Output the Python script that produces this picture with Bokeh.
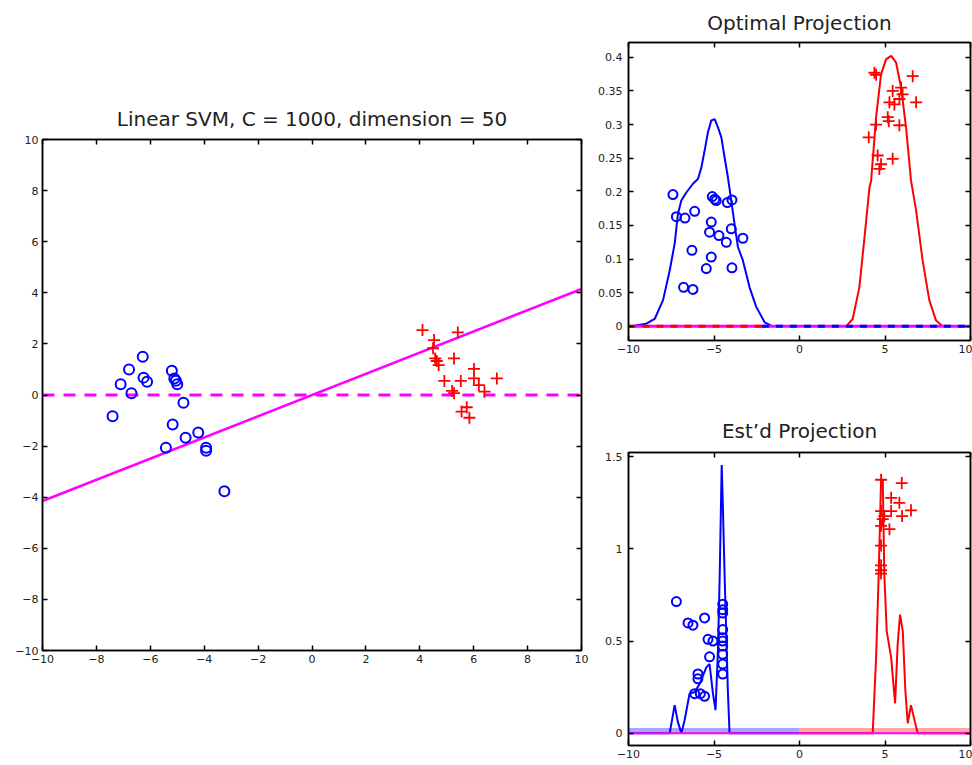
from bokeh.plotting import figure
from bokeh.layouts import row, column
from bokeh.models import FixedTicker, LinearAxis, Range1d
from bokeh.embed import file_html
from bokeh.resources import INLINE

FONT = "DejaVu Sans"

# ---------------- main panel data ----------------
blue_x = [-7.40, -7.10, -6.79, -6.70, -6.28, -6.25, -6.12, -5.20, -5.11, -5.05,
          -5.00, -4.77, -5.17, -5.42, -4.69, -4.22, -3.93, -3.93, -3.25]
blue_y = [-0.83, 0.42, 1.00, 0.07, 1.50, 0.68, 0.52, 0.95, 0.65, 0.56,
          0.42, -0.30, -1.15, -2.06, -1.67, -1.47, -2.06, -2.18, -3.77]
red_x = [4.10, 4.53, 4.49, 4.57, 4.63, 4.70, 5.27, 5.41, 4.91, 5.52,
         5.20, 5.27, 6.01, 6.01, 6.19, 6.40, 6.86, 5.74, 5.55, 5.84]
red_y = [2.54, 2.15, 1.83, 1.43, 1.33, 1.17, 1.43, 2.45, 0.55, 0.55,
         0.16, 0.07, 1.02, 0.65, 0.39, 0.13, 0.65, -0.48, -0.65, -0.89]
svm_x = [-10, 10]
svm_y = [-4.15, 4.15]
zero_x = [-10, 10]
zero_y = [0, 0]
main_ticks = [-10, -8, -6, -4, -2, 0, 2, 4, 6, 8, 10]

# ---------------- optimal projection data ----------------
opt_blue_cx = [-9.93, -8.96, -8.47, -7.98, -7.59, -7.30, -7.11, -6.91, -6.62, -6.23,
               -5.94, -5.74, -5.55, -5.36, -5.16, -4.96, -4.77, -4.57, -4.38, -4.19,
               -3.99, -3.80, -3.60, -3.31, -2.92, -2.53, -2.04, -1.56]
opt_blue_cy = [0.0, 0.004, 0.011, 0.039, 0.083, 0.123, 0.167, 0.187, 0.199, 0.212,
               0.219, 0.236, 0.261, 0.288, 0.306, 0.308, 0.296, 0.281, 0.251, 0.222,
               0.187, 0.152, 0.118, 0.098, 0.058, 0.029, 0.006, 0.0]
opt_red_cx = [2.73, 3.11, 3.50, 3.80, 4.09, 4.19, 4.48, 4.77, 5.06, 5.36,
              5.65, 5.94, 6.23, 6.52, 6.82, 7.20, 7.59, 7.98, 8.37]
opt_red_cy = [0.0, 0.011, 0.058, 0.132, 0.206, 0.217, 0.311, 0.375, 0.397, 0.402,
              0.392, 0.355, 0.296, 0.217, 0.172, 0.098, 0.039, 0.009, 0.0]
opt_blue_px = [-7.40, -7.20, -6.70, -6.13, -6.29, -6.78, -6.23, -5.10, -4.96, -4.87,
               -4.22, -3.95, -5.16, -5.26, -4.71, -4.28, -3.99, -3.31, -5.16, -5.45, -3.95]
opt_blue_py = [0.196, 0.163, 0.161, 0.171, 0.113, 0.058, 0.055, 0.193, 0.189, 0.187,
               0.184, 0.188, 0.155, 0.140, 0.135, 0.125, 0.145, 0.131, 0.103, 0.086, 0.087]
opt_red_px = [4.38, 4.48, 6.62, 5.45, 5.94, 6.03, 5.26, 5.55, 5.84, 6.82,
              5.16, 4.48, 5.22, 5.84, 4.05, 4.57, 4.77, 4.67, 5.45]
opt_red_py = [0.377, 0.374, 0.372, 0.350, 0.355, 0.345, 0.333, 0.330, 0.338, 0.333,
              0.311, 0.300, 0.305, 0.299, 0.281, 0.254, 0.241, 0.234, 0.249]
opt_yticks = [0, 0.05, 0.1, 0.15, 0.2, 0.25, 0.3, 0.35, 0.4]
opt_ylabels = ["0", "0.05", "0.1", "0.15", "0.2", "0.25", "0.3", "0.35", "0.4"]

# ---------------- estimated projection data ----------------
est_blue_cx = [-9.9, -7.59, -7.30, -7.11, -6.91, -6.72, -6.43, -6.13, -5.84, -5.45,
               -5.26, -5.06, -4.91, -4.77, -4.67, -4.60, -4.55, -4.50, -4.38, -4.19, -4.09, 0.0]
est_blue_cy = [0.0, 0.0, 0.152, 0.06, 0.0, 0.07, 0.214, 0.223, 0.268, 0.357,
               0.375, 0.214, 0.125, 0.446, 0.839, 1.20, 1.455, 1.30, 0.857, 0.232, 0.0, 0.0]
est_red_cx = [0.0, 4.28, 4.48, 4.63, 4.77, 4.87, 4.96, 5.10, 5.36, 5.59,
              5.74, 5.88, 6.04, 6.19, 6.33, 6.52, 6.72, 6.91, 10.0]
est_red_cy = [0.0, 0.0, 0.41, 0.857, 1.375, 1.375, 0.857, 0.554, 0.41, 0.161,
              0.482, 0.643, 0.554, 0.232, 0.054, 0.152, 0.072, 0.0, 0.0]
est_blue_px = [-7.20, -6.52, -6.23, -5.55, -5.35, -5.06, -5.26, -5.94, -5.94, -6.13,
               -5.80, -5.55, -4.49, -4.49, -4.49, -4.49, -4.49, -4.49, -4.49, -4.49, -4.49, -4.49]
est_blue_py = [0.714, 0.598, 0.586, 0.625, 0.509, 0.500, 0.414, 0.321, 0.295, 0.214,
               0.214, 0.200, 0.700, 0.670, 0.652, 0.562, 0.518, 0.500, 0.473, 0.428, 0.375, 0.321]
est_red_px = [4.77, 4.77, 4.77, 4.77, 4.77, 4.77, 4.77, 5.98, 5.36, 5.84,
              6.52, 6.00, 5.26, 4.96, 5.36, 4.87]
est_red_py = [1.375, 1.205, 1.125, 1.018, 0.911, 0.884, 0.866, 1.357, 1.277, 1.250,
              1.209, 1.178, 1.107, 1.178, 1.205, 1.161]
est_yticks = [0, 0.5, 1, 1.5]
est_ylabels = ["0", "0.5", "1", "1.5"]
proj_xticks = [-10, -5, 0, 5, 10]

BLUE = "#0000ff"
RED = "#ff0000"
MAG = "#ff00ff"


def mirror_axis(ticks):
    # axis that draws only inward ticks (as minor ticks), no labels
    ax = LinearAxis(ticker=FixedTicker(ticks=[], minor_ticks=ticks))
    ax.minor_tick_in = 5
    ax.minor_tick_out = 0
    ax.minor_tick_line_color = "black"
    ax.minor_tick_line_width = 1.5
    ax.major_tick_in = 0
    ax.major_tick_out = 0
    ax.major_label_standoff = 0
    ax.axis_line_color = "black"
    ax.axis_line_width = 1.5
    return ax


def style(p, xticks, yticks, ylabels=None, ystandoff=4):
    p.grid.visible = False
    p.outline_line_color = "black"
    p.outline_line_width = 1.5
    p.title.text_font = FONT
    p.title.text_font_style = "normal"
    p.title.text_font_size = "20px"
    p.title.align = "center"
    p.title.text_color = "#222222"
    p.xaxis.ticker = FixedTicker(ticks=xticks)
    p.yaxis.ticker = FixedTicker(ticks=yticks)
    if ylabels is not None:
        p.yaxis.major_label_overrides = {t: l for t, l in zip(yticks, ylabels)}
    p.yaxis.major_label_standoff = ystandoff
    p.xaxis.major_label_standoff = 4
    for ax in p.axis:
        ax.major_tick_in = 5
        ax.major_tick_out = 0
        ax.major_tick_line_width = 1.5
        ax.minor_tick_line_color = None
        ax.axis_line_color = "black"
        ax.axis_line_width = 1.5
        ax.major_label_text_font = FONT
        ax.major_label_text_color = "#222222"
        ax.major_label_text_font_size = "11px"
    p.add_layout(mirror_axis(yticks), "right")
    p.add_layout(mirror_axis(xticks), "above")


# ---------------- main figure ----------------
p1 = figure(frame_width=539, frame_height=511, output_backend="svg", toolbar_location=None,
            x_range=Range1d(-10, 10), y_range=Range1d(-10, 10),
            title="Linear SVM, C = 1000, dimension = 50",
            min_border_left=42, min_border_right=11, min_border_top=139, min_border_bottom=115)
p1.line(zero_x, zero_y, line_color=MAG, line_width=3, line_dash="12 9")
p1.line(svm_x, svm_y, line_color=MAG, line_width=2.5)
p1.scatter(blue_x, blue_y, marker="circle", size=10, fill_color=None,
           line_color=BLUE, line_width=2)
p1.scatter(red_x, red_y, marker="cross", size=12, line_color=RED, line_width=1.8)
style(p1, main_ticks, main_ticks, ystandoff=4)
p1.title.standoff = 17

# ---------------- optimal projection ----------------
p2 = figure(frame_width=342, frame_height=298, output_backend="svg", toolbar_location=None,
            x_range=Range1d(-10, 10), y_range=Range1d(-0.021, 0.422),
            title="Optimal Projection",
            min_border_left=36, min_border_right=2, min_border_top=42, min_border_bottom=60)
p2.line(opt_blue_cx, opt_blue_cy, line_color=BLUE, line_width=2)
p2.line(opt_red_cx, opt_red_cy, line_color=RED, line_width=2)
p2.line([-10, 10], [0, 0], line_color=MAG, line_width=3)
p2.line([-10, -2.2], [0, 0], line_color=RED, line_width=3, line_dash="7 7")
p2.line([-2.2, 10], [0, 0], line_color=BLUE, line_width=3, line_dash="7 7")
p2.scatter(opt_blue_px, opt_blue_py, marker="circle", size=9, fill_color=None,
           line_color=BLUE, line_width=2)
p2.scatter(opt_red_px, opt_red_py, marker="cross", size=12, line_color=RED, line_width=1.8)
style(p2, proj_xticks, opt_yticks, opt_ylabels, ystandoff=6)
p2.title.standoff = 16

# ---------------- estimated projection ----------------
p3 = figure(frame_width=342, frame_height=293, output_backend="svg", toolbar_location=None,
            x_range=Range1d(-10, 10), y_range=Range1d(-0.067, 1.523),
            title="Est\u2019d Projection",
            min_border_left=36, min_border_right=2, min_border_top=52, min_border_bottom=20)
p3.line([-10, 0], [0.015, 0.015], line_color=BLUE, line_alpha=0.35, line_width=5)
p3.line([0, 10], [0.015, 0.015], line_color=RED, line_alpha=0.35, line_width=5)
p3.line(est_blue_cx, est_blue_cy, line_color=BLUE, line_width=2)
p3.line(est_red_cx, est_red_cy, line_color=RED, line_width=2)
p3.line([-10, 10], [0, 0], line_color=MAG, line_width=2)
p3.scatter(est_blue_px, est_blue_py, marker="circle", size=9, fill_color=None,
           line_color=BLUE, line_width=2)
p3.scatter(est_red_px, est_red_py, marker="cross", size=12, line_color=RED, line_width=1.8)
style(p3, proj_xticks, est_yticks, est_ylabels, ystandoff=6)
p3.title.standoff = 19

layout = row(p1, column(p2, p3, spacing=0), spacing=0)
open("out.html", "w").write(file_html(layout, INLINE))
